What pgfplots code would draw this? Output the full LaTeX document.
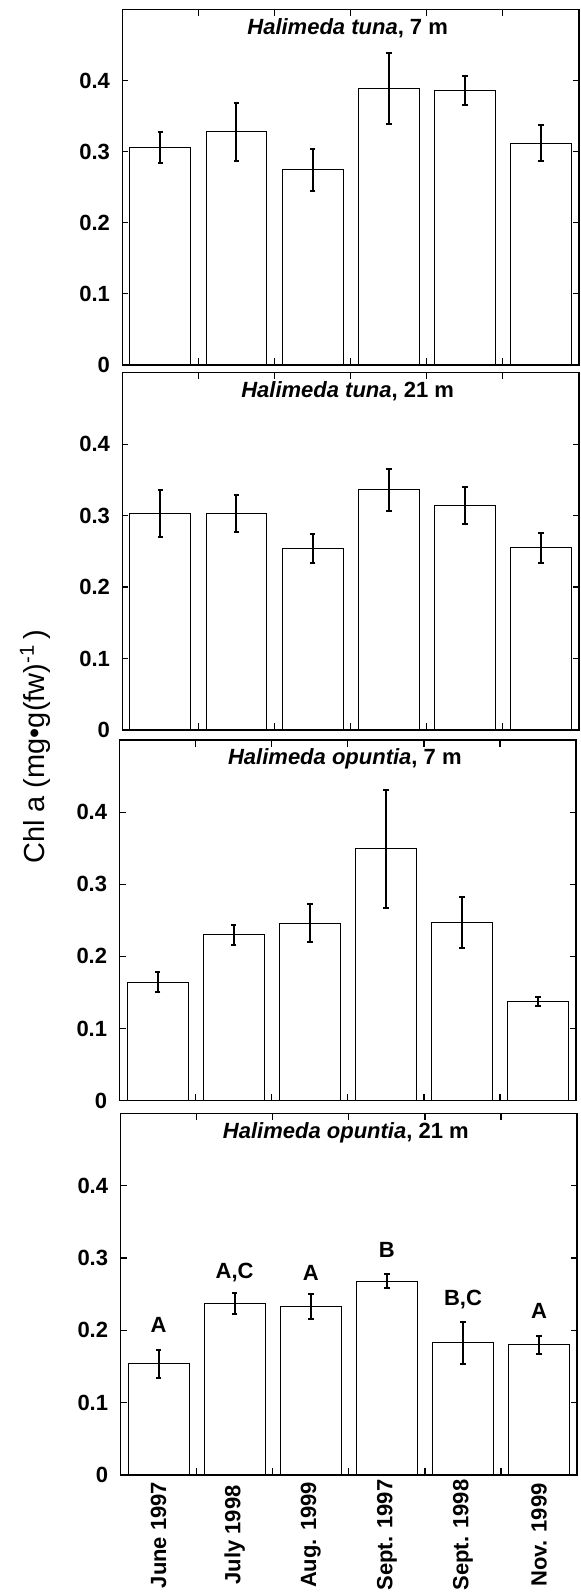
\documentclass[border=0pt]{standalone}
\usepackage{pgfplots}
\pgfplotsset{compat=1.18}
\usepackage{pgfplotstable}
\usepackage{fontspec}
\setmainfont{Liberation Sans}

% bold label font used for ticks, titles and group letters
\newcommand\lblfont{\bfseries\fontsize{11}{13}\selectfont}

% Chl a per sampling date: mean and error (x = 0..5 are the six dates)
\pgfplotstableread{
x y err
0 0.306 0.0222
1 0.328 0.0407
2 0.2745 0.0298
3 0.388 0.0499
4 0.386 0.0201
5 0.312 0.0253
}\tunaseven
\pgfplotstableread{
x y err
0 0.303 0.0330
1 0.303 0.0263
2 0.254 0.0198
3 0.336 0.0289
4 0.314 0.0258
5 0.255 0.0212
}\tunatwentyone
\pgfplotstableread{
x y err
0 0.164 0.0138
1 0.230 0.0136
2 0.246 0.0267
3 0.349 0.0812
4 0.247 0.0352
5 0.137 0.0062
}\opuntiaseven
\pgfplotstableread{
x y err
0 0.1535 0.0196
1 0.237 0.0148
2 0.233 0.0175
3 0.268 0.0097
4 0.1825 0.0293
5 0.180 0.0122
}\opuntiatwentyone

\pgfplotsset{
  chlpanel/.style={
    ybar, bar width=0.8,
    scale only axis, width=228.35pt,
    anchor=north west,
    xmin=-0.5, xmax=5.5, ymin=0, ymax=0.5,
    xtick={0,...,5},
    minor xtick={0.5,1.5,2.5,3.5,4.5},
    ytick={0,0.1,0.2,0.3,0.4},
    tick align=inside, xtick align=inside, ytick align=inside,
    xtick pos=both, ytick pos=both,
    major tick length=3pt, minor tick length=3.3pt,
    axis line style={line width=0.7pt},
    every tick/.style={black, line width=0.6pt},
    major x tick style={draw=none},
    axis on top,
    /pgf/number format/assume math mode=true,
    tick label style={font=\lblfont},
    yticklabel={\lblfont\pgfmathprintnumber{\tick}},
    yticklabel style={anchor=east, inner sep=0pt, xshift=-6pt},
    xticklabels={,,,,,},
  },
  chlbars/.style={
    fill=white, draw=black, line width=0.5pt,
    error bars/.cd, y dir=both, y explicit,
    error bar style={line width=1pt, black},
    error mark options={rotate=90, mark size=1.4pt, line width=1pt, black},
  },
}
\tikzset{
  paneltitle/.style={anchor=base, yshift=-12.4pt, xshift=-1.5pt, font=\lblfont},
  letter/.style={font=\lblfont},
}

\begin{document}
\begin{tikzpicture}
\useasboundingbox (0,0) rectangle (290.5pt,-797.5pt);

% Halimeda tuna, 7 m
\begin{axis}[chlpanel, at={(61.15pt,-4.65pt)}, height=177.85pt]
\addplot[chlbars] table[x=x, y=y, y error=err] {\tunaseven};
\node[paneltitle] at (rel axis cs:0.5,1) {\textit{Halimeda tuna}, 7 m};
\end{axis}

% Halimeda tuna, 21 m
\begin{axis}[chlpanel, at={(61.15pt,-186.35pt)}, height=178.65pt]
\addplot[chlbars] table[x=x, y=y, y error=err] {\tunatwentyone};
\node[paneltitle] at (rel axis cs:0.5,1) {\textit{Halimeda tuna}, 21 m};
\end{axis}

% Halimeda opuntia, 7 m
\begin{axis}[chlpanel, at={(59.75pt,-370pt)}, height=180.35pt]
\addplot[chlbars] table[x=x, y=y, y error=err] {\opuntiaseven};
\node[paneltitle] at (rel axis cs:0.5,1) {\textit{Halimeda opuntia}, 7 m};
\end{axis}

% Halimeda opuntia, 21 m, with the dates and the group letters
\begin{axis}[chlpanel, at={(60.25pt,-556.65pt)}, height=180.85pt,
  xticklabels={{\lblfont June 1997}, {\lblfont July 1998}, {\lblfont Aug. 1999},
    {\lblfont Sept. 1997}, {\lblfont Sept. 1998}, {\lblfont Nov. 1999}},
  xticklabel style={rotate=90, anchor=center},
  xticklabel shift=30pt]
\addplot[chlbars] table[x=x, y=y, y error=err] {\opuntiatwentyone};
\node[paneltitle] at (rel axis cs:0.5,1) {\textit{Halimeda opuntia}, 21 m};
\node[letter] at (axis cs:0,0.207) {A};
\node[letter] at (axis cs:1,0.280) {A,C};
\node[letter] at (axis cs:2,0.280) {A};
\node[letter] at (axis cs:3,0.311) {B};
\node[letter] at (axis cs:4,0.242) {B,C};
\node[letter] at (axis cs:5,0.227) {A};
\end{axis}

\node[rotate=90, font=\fontsize{14.5}{17}\selectfont] at (17.5pt,-373.5pt)
  {Chl a (mg•g(fw)\textsuperscript{-1}\,)};
\end{tikzpicture}
\end{document}
